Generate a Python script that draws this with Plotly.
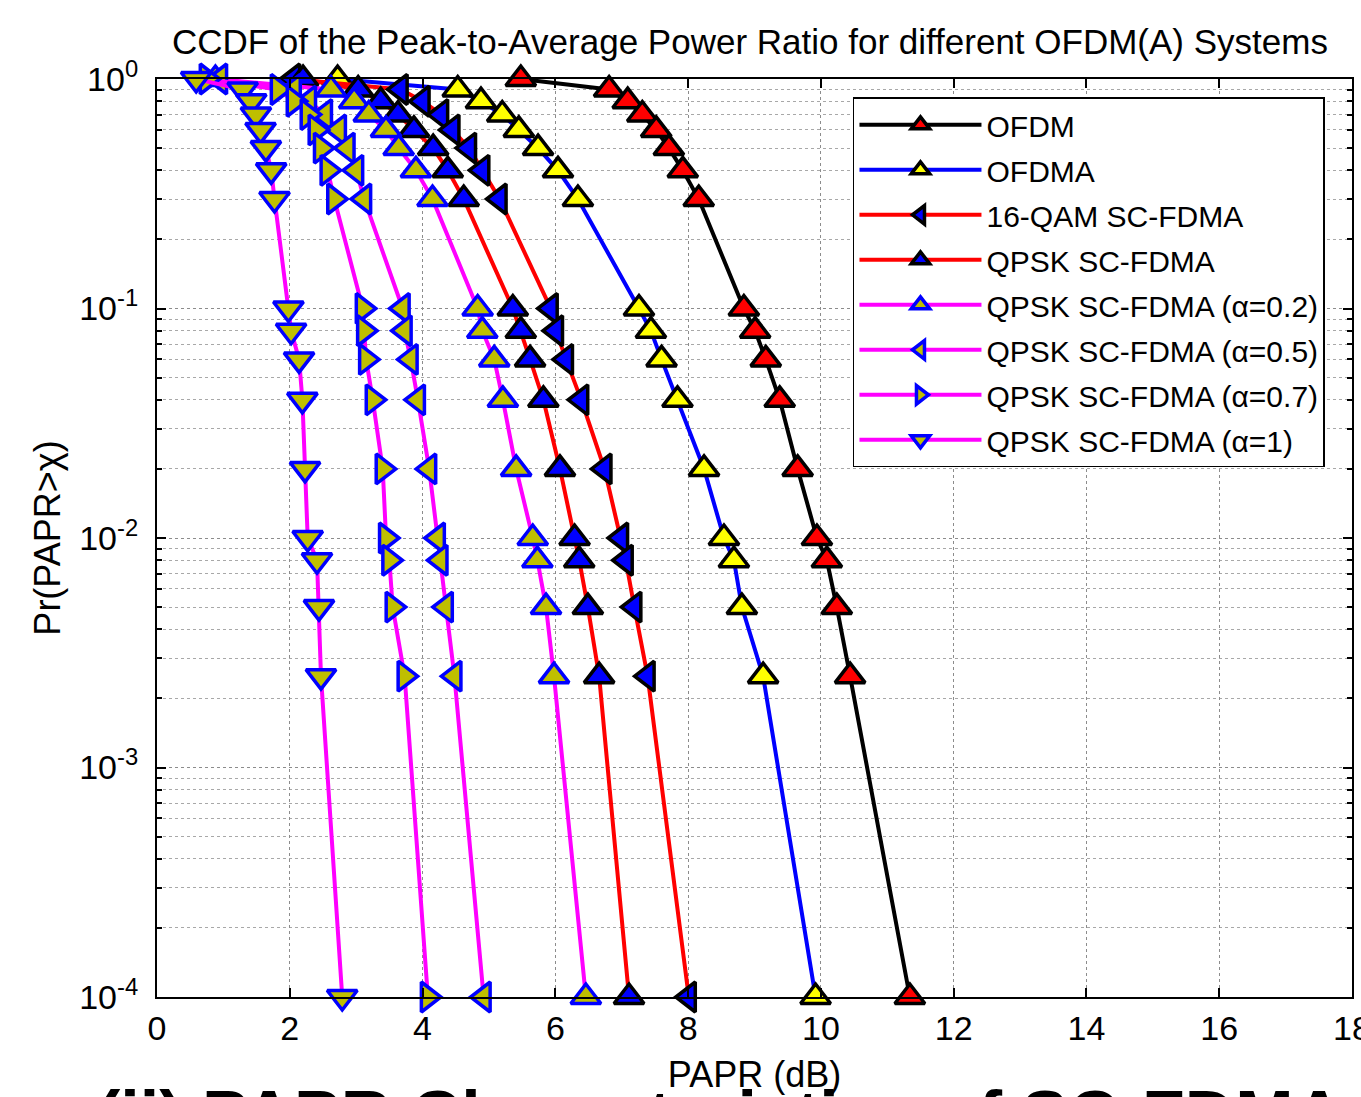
import plotly.graph_objects as go

# ---------------- data ----------------
prob = [1.0, 0.9, 0.8, 0.7, 0.6, 0.5, 0.4, 0.3, 0.1, 0.08, 0.06, 0.04,
        0.02, 0.01, 0.008, 0.005, 0.0025, 0.0001]

papr_ofdm = [5.48, 6.81, 7.09, 7.31, 7.52, 7.71, 7.92, 8.16, 8.84, 9.01, 9.17, 9.38,
             9.65, 9.94, 10.09, 10.24, 10.44, 11.34]
papr_ofdma = [2.72, 4.53, 4.88, 5.20, 5.45, 5.74, 6.04, 6.34, 7.26, 7.44, 7.60, 7.84,
              8.24, 8.54, 8.69, 8.81, 9.13, 9.92]
papr_16qam = [2.05, 3.67, 4.00, 4.28, 4.45, 4.70, 4.90, 5.16, 5.93, 6.01, 6.16, 6.39,
              6.74, 6.99, 7.06, 7.19, 7.39, 8.01]
papr_qpsk = [2.20, 3.03, 3.37, 3.63, 3.87, 4.16, 4.38, 4.62, 5.36, 5.48, 5.62, 5.82,
             6.07, 6.29, 6.36, 6.49, 6.66, 7.11]
papr_a02 = [0.88, 2.62, 2.97, 3.19, 3.45, 3.64, 3.90, 4.15, 4.83, 4.90, 5.08, 5.21,
            5.41, 5.66, 5.73, 5.86, 5.98, 6.46]
papr_a05 = [0.95, 2.06, 2.29, 2.53, 2.74, 2.87, 3.00, 3.12, 3.70, 3.73, 3.82, 3.93,
            4.10, 4.23, 4.27, 4.35, 4.48, 4.92]
papr_a07 = [0.75, 1.82, 2.06, 2.27, 2.39, 2.47, 2.57, 2.67, 3.10, 3.12, 3.15, 3.25,
            3.40, 3.45, 3.50, 3.55, 3.73, 4.08]
papr_a1 = [0.59, 1.29, 1.42, 1.49, 1.56, 1.64, 1.72, 1.77, 1.98, 2.02, 2.14, 2.19,
           2.23, 2.27, 2.41, 2.44, 2.47, 2.79]

series_names = ["OFDM", "OFDMA", "16-QAM SC-FDMA", "QPSK SC-FDMA",
                "QPSK SC-FDMA (α=0.2)", "QPSK SC-FDMA (α=0.5)",
                "QPSK SC-FDMA (α=0.7)", "QPSK SC-FDMA (α=1)"]

x_ticks = [0, 2, 4, 6, 8, 10, 12, 14, 16, 18]
y_tick_vals = [1e-4, 1e-3, 1e-2, 1e-1, 1e0]
y_tick_text = ["10<sup>-4</sup>", "10<sup>-3</sup>", "10<sup>-2</sup>",
               "10<sup>-1</sup>", "10<sup>0</sup>"]

# ---------------- styles ----------------
FONT = "Liberation Sans, Arial, sans-serif"
OLIVE = "#bfbf00"
styles = [
    dict(line="black", fill="red", edge="black", sym="triangle-up"),
    dict(line="blue", fill="yellow", edge="black", sym="triangle-up"),
    dict(line="red", fill="blue", edge="black", sym="triangle-left"),
    dict(line="red", fill="blue", edge="black", sym="triangle-up"),
    dict(line="magenta", fill=OLIVE, edge="blue", sym="triangle-up"),
    dict(line="magenta", fill=OLIVE, edge="blue", sym="triangle-left"),
    dict(line="magenta", fill=OLIVE, edge="blue", sym="triangle-right"),
    dict(line="magenta", fill=OLIVE, edge="blue", sym="triangle-down"),
]
all_x = [papr_ofdm, papr_ofdma, papr_16qam, papr_qpsk,
         papr_a02, papr_a05, papr_a07, papr_a1]

fig = go.Figure()
for name, xs, st in zip(series_names, all_x, styles):
    fig.add_trace(go.Scatter(
        x=xs, y=prob, name=name, mode="lines+markers",
        legendgroup=name,
        line=dict(color=st["line"], width=4),
        marker=dict(symbol=st["sym"], size=26, color=st["fill"],
                    line=dict(color=st["edge"], width=3.5)),
        cliponaxis=False,
    ))

minor_y = [k * 10.0 ** e for e in range(-4, 0) for k in range(2, 10)]

fig.update_layout(
    width=1361, height=1097,
    margin=dict(l=157, r=9, t=79, b=100, autoexpand=False),
    paper_bgcolor="white", plot_bgcolor="white",
    font=dict(family=FONT, color="black"),
    title=dict(text="CCDF of the Peak-to-Average Power Ratio for different OFDM(A) Systems",
               x=0.551, xanchor="center", y=0.962, yanchor="middle",
               font=dict(size=35, family=FONT, color="black")),
    showlegend=True,
    legend=dict(x=0.5824, y=0.980, xanchor="left", yanchor="top",
                bgcolor="white", bordercolor="black", borderwidth=1.5,
                font=dict(size=30, family=FONT, color="black"),
                itemwidth=122, tracegroupgap=3, traceorder="grouped"),
)

fig.update_xaxes(
    range=[0, 18], tickvals=x_ticks, ticktext=[str(v) for v in x_ticks],
    automargin=False,
    showgrid=True, gridcolor="#8c8c8c", griddash="dot", gridwidth=1,
    showline=True, linecolor="black", linewidth=2, mirror="ticks",
    ticks="inside", ticklen=9, tickwidth=1.5, tickcolor="black",
    tickfont=dict(size=34, family=FONT, color="black"),
    ticklabeloverflow="allow",
    zeroline=False,
    title=dict(text="PAPR (dB)", font=dict(size=36, family=FONT, color="black"),
               standoff=16),
)
fig.update_yaxes(
    type="log", range=[-4, 0], tickvals=y_tick_vals, ticktext=y_tick_text,
    automargin=False,
    showgrid=True, gridcolor="#8c8c8c", griddash="dot", gridwidth=1,
    showline=True, linecolor="black", linewidth=2, mirror="ticks",
    ticks="inside", ticklen=9, tickwidth=1.5, tickcolor="black",
    tickfont=dict(size=34, family=FONT, color="black"),
    ticklabelstandoff=10, ticklabeloverflow="allow",
    minor=dict(tickmode="array", tickvals=minor_y, showgrid=True,
               gridcolor="#a8a8a8", griddash="dot", gridwidth=1,
               ticks="inside", ticklen=5, tickcolor="black"),
    zeroline=False,
    title=dict(text="Pr(PAPR>χ)", font=dict(size=36, family=FONT, color="black"),
               standoff=8),
)

fig.add_annotation(
    text="<b>(ii) PAPR Characteristics of SC-FDMA</b>",
    xref="paper", yref="paper", x=-0.052, y=-0.0845,
    xanchor="left", yanchor="top", showarrow=False,
    font=dict(size=70, family=FONT, color="black"),
)

fig.write_html("out.html", config={"displayModeBar": False},
               post_script="document.body.style.margin='0';")
